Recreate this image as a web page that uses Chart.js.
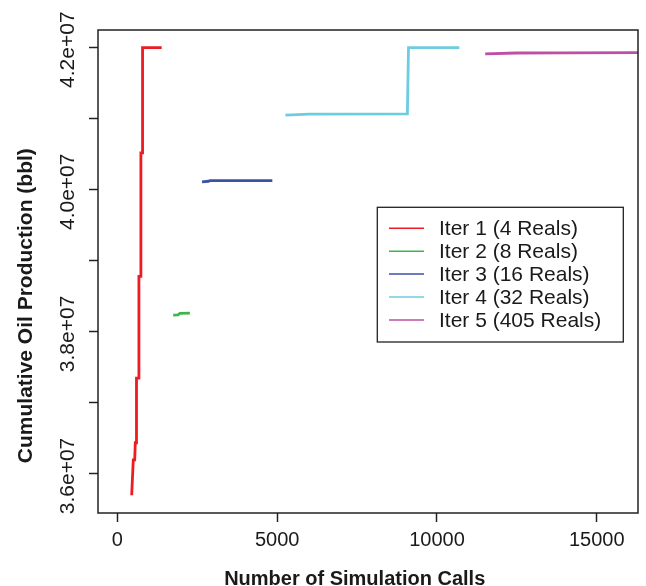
<!DOCTYPE html>
<html>
<head>
<meta charset="utf-8">
<script src="https://cdn.jsdelivr.net/npm/chart.js@4.4.1/dist/chart.umd.min.js"></script>
<style>
  body { margin: 0; background: #fff; }
  #wrap { width: 646px; height: 586px; }
</style>
</head>
<body>
<div id="wrap"><canvas id="oilChart" width="646" height="586"></canvas></div>
<script>
// best cumulative oil found so far vs. number of simulation calls, per iteration
const seriesLabels = [
  "Iter 1 (4 Reals)",
  "Iter 2 (8 Reals)",
  "Iter 3 (16 Reals)",
  "Iter 4 (32 Reals)",
  "Iter 5 (405 Reals)",
];

const iter1Calls = [450, 500, 544, 563, 590, 600, 669, 676, 731, 738, 781, 790, 1388];
const iter1Oil = [35.70e6, 36.20e6, 36.20e6, 36.44e6, 36.44e6, 37.35e6, 37.35e6, 38.78e6, 38.78e6, 40.52e6, 40.52e6, 42.0e6, 42.0e6];

const iter2Calls = [1750, 1900, 1960, 2270];
const iter2Oil = [38.235e6, 38.24e6, 38.262e6, 38.265e6];

const iter3Calls = [2650, 2850, 2900, 4850];
const iter3Oil = [40.11e6, 40.12e6, 40.128e6, 40.13e6];

const iter4Calls = [5260, 6000, 9075, 9110, 10700];
const iter4Oil = [41.05e6, 41.064e6, 41.068e6, 42.0e6, 42.0e6];

const iter5Calls = [11510, 12500, 14000, 17000];
const iter5Oil = [41.912e6, 41.925e6, 41.928e6, 41.93e6];

const xTicks = [0, 5000, 10000, 15000];
const yTicks = [36e6, 37e6, 38e6, 39e6, 40e6, 41e6, 42e6];

const seriesColors = ["#ED1C24", "#3DB54A", "#3A53A4", "#6DCDE0", "#BE4FA5"];

const allCalls = [iter1Calls, iter2Calls, iter3Calls, iter4Calls, iter5Calls];
const allOil = [iter1Oil, iter2Oil, iter3Oil, iter4Oil, iter5Oil];

const textColor = "#1a1a1a";
const frameColor = "#222";
const fontFamily = "'Liberation Sans', Arial, sans-serif";

// R style "4.2e+07"
function sciLabel(v) {
  return (v / 1e7).toFixed(1) + "e+07";
}

const datasets = seriesLabels.map((label, i) => ({
  label: label,
  data: allCalls[i].map((c, j) => ({ x: c, y: allOil[i][j] })),
  borderColor: seriesColors[i],
  backgroundColor: seriesColors[i],
  borderWidth: 2.8,
  pointRadius: 0,
  tension: 0,
}));

const framePlugin = {
  id: "frame",
  afterDraw(chart) {
    const ctx = chart.ctx;
    const area = chart.chartArea;
    const yScale = chart.scales.y;
    ctx.save();

    // plot box
    ctx.strokeStyle = frameColor;
    ctx.lineWidth = 1.5;
    ctx.strokeRect(area.left, area.top, area.right - area.left, area.bottom - area.top);

    // y tick labels, every other tick, written along the axis
    ctx.fillStyle = textColor;
    ctx.font = "21px " + fontFamily;
    ctx.textAlign = "center";
    ctx.textBaseline = "alphabetic";
    yScale.ticks.forEach((t) => {
      if (Math.round(t.value / 1e6) % 2 !== 0) return;
      const py = yScale.getPixelForValue(t.value);
      ctx.save();
      ctx.translate(74, py + 2);
      ctx.rotate(-Math.PI / 2);
      ctx.fillText(sciLabel(t.value), 0, 0);
      ctx.restore();
    });

    // axis titles
    ctx.font = "bold 20px " + fontFamily;
    ctx.fillText("Number of Simulation Calls", 354.7, 585);
    ctx.save();
    ctx.font = "bold 21px " + fontFamily;
    ctx.translate(31.5, 305.7);
    ctx.rotate(-Math.PI / 2);
    ctx.fillText("Cumulative Oil Production (bbl)", 0, 0);
    ctx.restore();

    // legend box
    const lx = 377.3, ly = 207.3, lw = 246, lh = 134.7;
    ctx.fillStyle = "#fff";
    ctx.fillRect(lx, ly, lw, lh);
    ctx.strokeStyle = frameColor;
    ctx.lineWidth = 1.3;
    ctx.strokeRect(lx, ly, lw, lh);
    ctx.font = "21px " + fontFamily;
    ctx.textAlign = "left";
    ctx.textBaseline = "middle";
    chart.data.datasets.forEach((ds, i) => {
      const rowY = 228.3 + i * 22.9;
      ctx.strokeStyle = ds.borderColor;
      ctx.lineWidth = 1.5;
      ctx.beginPath();
      ctx.moveTo(389, rowY);
      ctx.lineTo(424, rowY);
      ctx.stroke();
      ctx.fillStyle = textColor;
      ctx.fillText(ds.label, 439, rowY + 1);
    });

    ctx.restore();
  },
};

const tickGrid = {
  drawOnChartArea: false,
  drawTicks: true,
  tickLength: 9,
  tickColor: frameColor,
  tickWidth: 1.5,
};

new Chart(document.getElementById("oilChart"), {
  type: "line",
  data: { datasets: datasets },
  options: {
    responsive: false,
    animation: false,
    layout: { padding: { top: 30, right: 8, left: 0, bottom: 0 } },
    plugins: {
      legend: { display: false },
      tooltip: { enabled: false },
    },
    scales: {
      x: {
        type: "linear",
        min: -604,
        max: 16290,
        afterFit: (s) => { s.height = 73; },
        afterBuildTicks: (s) => { s.ticks = xTicks.map((v) => ({ value: v })); },
        border: { display: false },
        grid: tickGrid,
        ticks: {
          padding: 6,
          color: textColor,
          font: { family: fontFamily, size: 20 },
          maxRotation: 0,
          autoSkip: false,
          callback: (v) => String(v),
        },
      },
      y: {
        type: "linear",
        min: 35.451e6,
        max: 42.249e6,
        afterFit: (s) => { s.width = 98; },
        afterBuildTicks: (s) => { s.ticks = yTicks.map((v) => ({ value: v })); },
        border: { display: false },
        grid: tickGrid,
        ticks: { display: false },
      },
    },
  },
  plugins: [framePlugin],
});
</script>
</body>
</html>
